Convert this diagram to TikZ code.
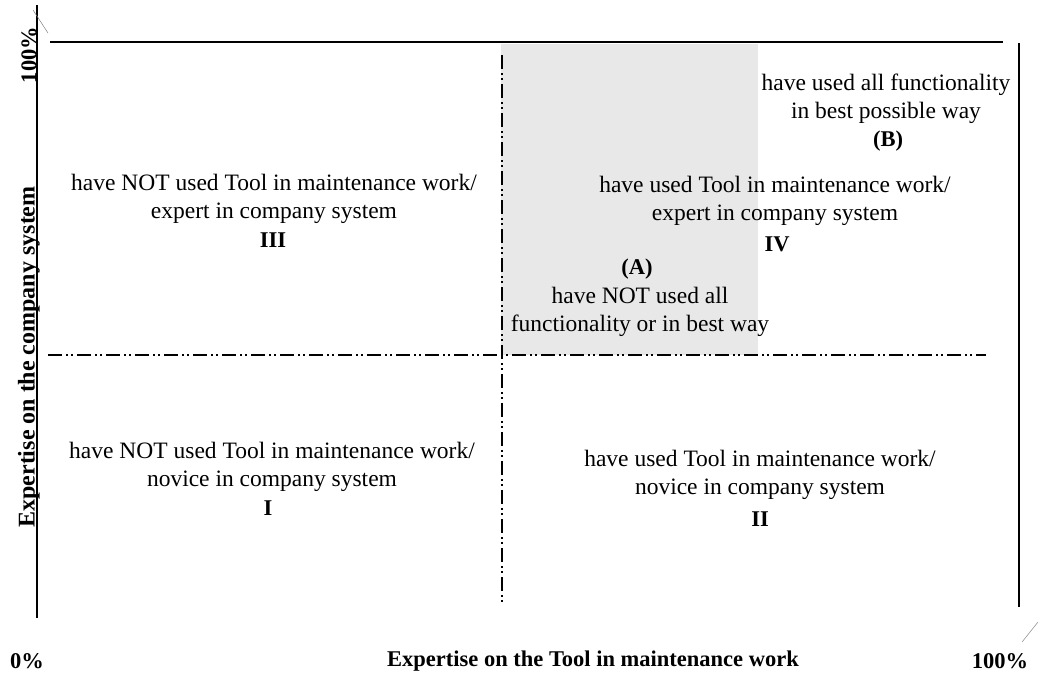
\documentclass[tikz,border=0pt]{standalone}
\usepackage{fontspec}
\setmainfont{Liberation Serif}
\begin{document}
\begin{tikzpicture}[x=1pt,y=-1pt,
  axisline/.style={line width=2pt,black},
  quadline/.style={line width=1.6pt,black,dash pattern=on 14pt off 4pt on 2pt off 3pt on 2pt off 4pt},
  lbl/.style={font=\fontsize{23.5}{27.5}\selectfont,align=center,inner sep=0pt},
  blbl/.style={font=\fontsize{22.5}{27}\selectfont\bfseries,inner sep=0pt},
  thin/.style={line width=0.5pt,gray}]
\useasboundingbox (0,0) rectangle (1038,672);
% shaded region
\fill[gray!18] (501,44) rectangle (758,355);
% axes / frame lines
\coordinate (ltop) at (37,5);
\coordinate (lbot) at (37,618);
\coordinate (ttl) at (50,42);
\coordinate (ttr) at (1003,42);
\coordinate (rtop) at (1019,43);
\coordinate (rbot) at (1019,607);
\draw[axisline] (ltop) -- (lbot);
\draw[axisline] (ttl) -- (ttr);
\draw[axisline] (rtop) -- (rbot);
% quadrant dividers
\coordinate (hl) at (48,355);
\coordinate (hr) at (986,355);
\coordinate (vt) at (502,55);
\coordinate (vb) at (502,603);
\draw[quadline] (hl) -- (hr);
\draw[quadline] (vt) -- (vb);
% thin corner strokes
\coordinate (c1) at (33,10);
\coordinate (c2) at (48,33);
\coordinate (c3) at (1022,642);
\coordinate (c4) at (1038,622);
\draw[thin] (c1) -- (c2);
\draw[thin] (c3) -- (c4);
% quadrant texts
\node[lbl] (q3) at (274,199) {have NOT used Tool in maintenance work/\\expert in company system};
\node[blbl] (q3n) at (273,240) {III};
\node[lbl] (qb) at (886,99) {have used all functionality\\in best possible way};
\node[blbl] (qbn) at (888,141) {(B)};
\node[lbl] (q4) at (775,201) {have used Tool in maintenance work/\\expert in company system};
\node[blbl] (q4n) at (777,244) {IV};
\node[blbl] (qan) at (637,269) {(A)};
\node[lbl] (qa) at (640,312) {have NOT used all\\functionality or in best way};
\node[lbl] (q1) at (272,467) {have NOT used Tool in maintenance work/\\novice in company system};
\node[blbl] (q1n) at (268,508) {I};
\node[lbl] (q2) at (760,475) {have used Tool in maintenance work/\\novice in company system};
\node[blbl] (q2n) at (760,519) {II};
% axis labels
\node[blbl] (x0) at (27,661) {0\%};
\node[blbl] (xl) at (593,661) {Expertise on the Tool in maintenance work};
\node[blbl] (x100) at (1000,661) {100\%};
\node[blbl,font=\fontsize{24}{27}\selectfont\bfseries,rotate=90] (yl) at (29,357) {Expertise on the company system};
\node[blbl,rotate=90] (y100) at (29,55) {100\%};
\end{tikzpicture}
\end{document}
